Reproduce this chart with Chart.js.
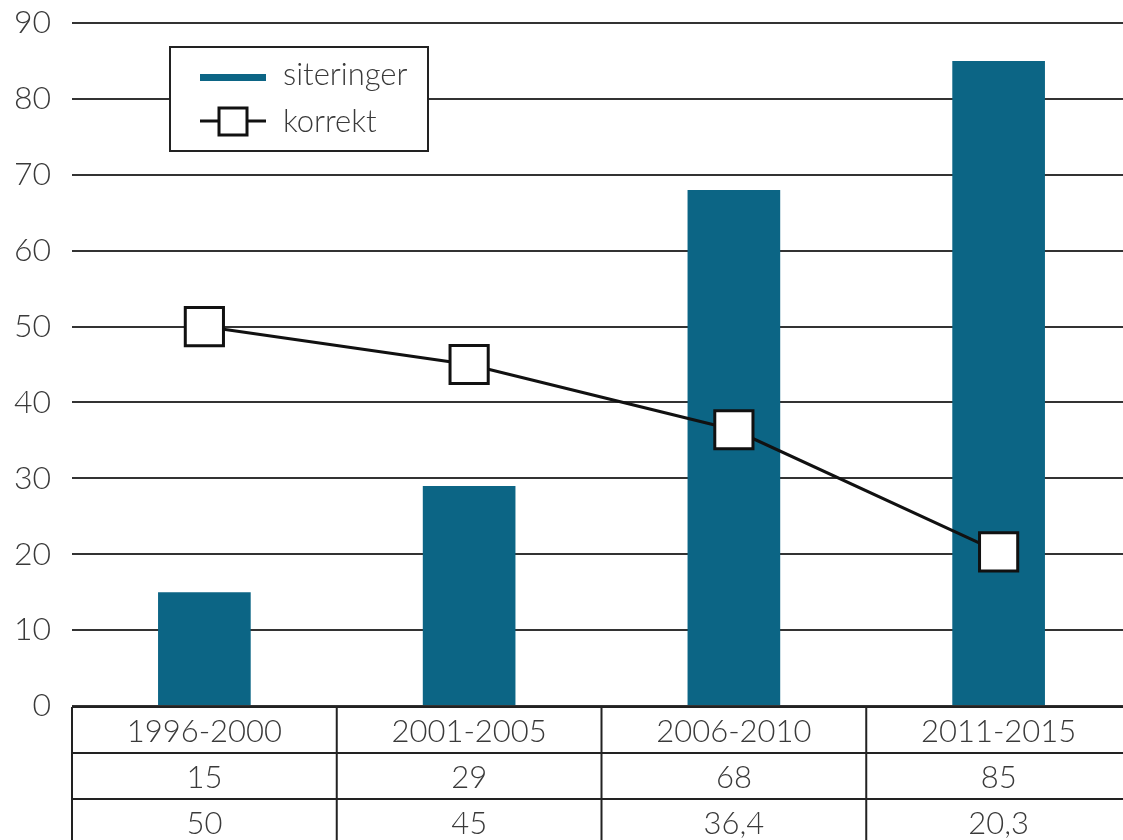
<!DOCTYPE html>
<html>
<head>
<meta charset="utf-8">
<script src="https://cdn.jsdelivr.net/npm/chart.js@4.4.0/dist/chart.umd.min.js"></script>
<style>
  html, body { margin: 0; padding: 0; background: #fff; overflow: hidden; }
  #chart { display: block; }
</style>
</head>
<body>
<canvas id="chart" width="1131" height="840"></canvas>
<script>
const categories = ['1996-2000', '2001-2005', '2006-2010', '2011-2015'];
const siteringer = [15, 29, 68, 85];
const korrekt = [50, 45, 36.4, 20.3];
const yTicks = [0, 10, 20, 30, 40, 50, 60, 70, 80, 90];

const textColor = '#3a3a3a';
const barColor = '#0c6585';
const fontFamily = 'Lato, "Open Sans", sans-serif';

// legend box with border, top left of the plot
const boxLegend = {
  id: 'boxLegend',
  afterDraw(chart) {
    const ctx = chart.ctx;
    ctx.save();
    ctx.strokeStyle = '#222';
    ctx.lineWidth = 2;
    ctx.fillStyle = '#fff';
    ctx.fillRect(170, 47, 258, 104);
    ctx.strokeRect(170, 47, 258, 104);

    ctx.fillStyle = barColor;
    ctx.fillRect(200, 74, 66, 7);

    ctx.strokeStyle = '#111';
    ctx.lineWidth = 3;
    ctx.beginPath();
    ctx.moveTo(200, 121);
    ctx.lineTo(266, 121);
    ctx.stroke();
    ctx.fillStyle = '#fff';
    ctx.fillRect(219, 108, 28, 27);
    ctx.strokeRect(219, 108, 28, 27);

    ctx.fillStyle = textColor;
    ctx.font = '300 31px ' + fontFamily;
    ctx.textBaseline = 'middle';
    ctx.textAlign = 'left';
    ctx.fillText(chart.data.datasets[1].label, 283, 75);
    ctx.fillText(chart.data.datasets[0].label, 283, 122);
    ctx.restore();
  }
};

// data table under the x axis
const dataTable = {
  id: 'dataTable',
  afterDraw(chart) {
    const ctx = chart.ctx;
    const x = chart.scales.x;
    const area = chart.chartArea;
    const rowH = 46;
    const top = area.bottom + 1;
    const half = (x.getPixelForValue(1) - x.getPixelForValue(0)) / 2;
    const rows = [categories, siteringer, korrekt.map(v => String(v).replace('.', ','))];
    ctx.save();
    ctx.strokeStyle = '#222';
    ctx.lineWidth = 2;
    ctx.beginPath();
    for (let r = 0; r <= rows.length; r++) {
      ctx.moveTo(area.left, top + r * rowH);
      ctx.lineTo(area.right, top + r * rowH);
    }
    for (let i = 0; i <= categories.length; i++) {
      const px = x.getPixelForValue(i) - half;
      ctx.moveTo(px, top);
      ctx.lineTo(px, top + rows.length * rowH);
    }
    ctx.stroke();
    ctx.fillStyle = textColor;
    ctx.font = '300 31px ' + fontFamily;
    ctx.textAlign = 'center';
    ctx.textBaseline = 'middle';
    rows.forEach((row, r) => {
      row.forEach((v, i) => {
        ctx.fillText(v, x.getPixelForValue(i), top + r * rowH + rowH / 2 + 2);
      });
    });
    ctx.restore();
  }
};

new Chart(document.getElementById('chart'), {
  data: {
    labels: categories,
    datasets: [{
      type: 'line',
      label: 'korrekt',
      data: korrekt,
      borderColor: '#111',
      borderWidth: 3,
      pointStyle: 'rect',
      pointRadius: 27,
      pointHoverRadius: 27,
      pointBackgroundColor: '#fff',
      pointBorderColor: '#111',
      pointBorderWidth: 3,
      order: 0
    }, {
      type: 'bar',
      label: 'siteringer',
      data: siteringer,
      backgroundColor: barColor,
      barPercentage: 0.35,
      categoryPercentage: 1,
      order: 1
    }]
  },
  options: {
    responsive: false,
    devicePixelRatio: 1,
    animation: false,
    layout: { autoPadding: false, padding: { top: 23, bottom: 134, left: 0, right: 0 } },
    plugins: { legend: { display: false }, tooltip: { enabled: false } },
    scales: {
      x: { display: false, offset: true },
      y: {
        min: 0,
        max: 90,
        afterFit(scale) { scale.width = 72; },
        afterBuildTicks(scale) { scale.ticks = yTicks.map(v => ({ value: v })); },
        border: { display: false },
        grid: { color: '#333', lineWidth: 2, drawTicks: true, tickLength: 21, tickColor: 'rgba(0,0,0,0)' },
        ticks: {
          padding: 0,
          color: textColor,
          font: { family: fontFamily, size: 32, weight: '300' }
        }
      }
    }
  },
  plugins: [boxLegend, dataTable]
});
</script>
</body>
</html>
